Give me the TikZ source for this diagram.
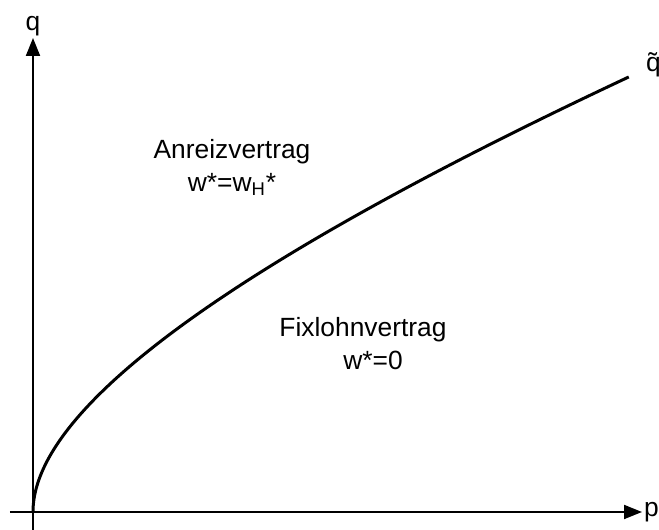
\documentclass[tikz,border=0pt]{standalone}
\usepackage{fontspec}
\setmainfont{Liberation Sans}
\usetikzlibrary{arrows.meta}

\begin{document}
\begin{tikzpicture}[
    >={Triangle[length=0.36cm, width=0.28cm]},
    axis/.style={->, line width=1.1pt, draw=black},
    curve/.style={line width=1.7pt, draw=black},
    lbl/.style={
        inner sep=1pt,
        align=center,
        font=\fontsize{15}{18}\selectfont
    }
]
    \useasboundingbox (-0.66,-0.36) rectangle (12.52,10.24);

    \coordinate (O) at (0,0);
    \coordinate (xstart) at (-0.46,0);
    \coordinate (xend) at (12.18,0);
    \coordinate (ystart) at (0,-0.36);
    \coordinate (yend) at (0,9.48);
    \coordinate (qend) at (11.92,8.70);

    \draw[axis] (xstart) -- (xend);
    \draw[axis] (ystart) -- (yend);

    \node[lbl, anchor=west] (plabel) at (xend) {p};
    \node[lbl, anchor=south] (qlabel) at (yend) {q};

    % Grenze zwischen den Vertragsarten
    \draw[curve] plot[domain=0:3.4525, samples=120, smooth]
        ({\x*\x}, {1.806*\x + 0.207*\x*\x});

    \node[lbl, anchor=south west] (qtilde) at ([xshift=0.3cm, yshift=-0.05cm]qend) {\~q};

    \node[lbl] (anreiz) at (3.98,7.20) {Anreizvertrag};
    \node[lbl] (anreizw) at (3.98,6.56) {w*=w\textsubscript{H}*};

    \node[lbl] (fix) at (6.60,3.64) {Fixlohnvertrag};
    \node[lbl] (fixw) at (6.80,3.04) {w*=0};
\end{tikzpicture}
\end{document}
